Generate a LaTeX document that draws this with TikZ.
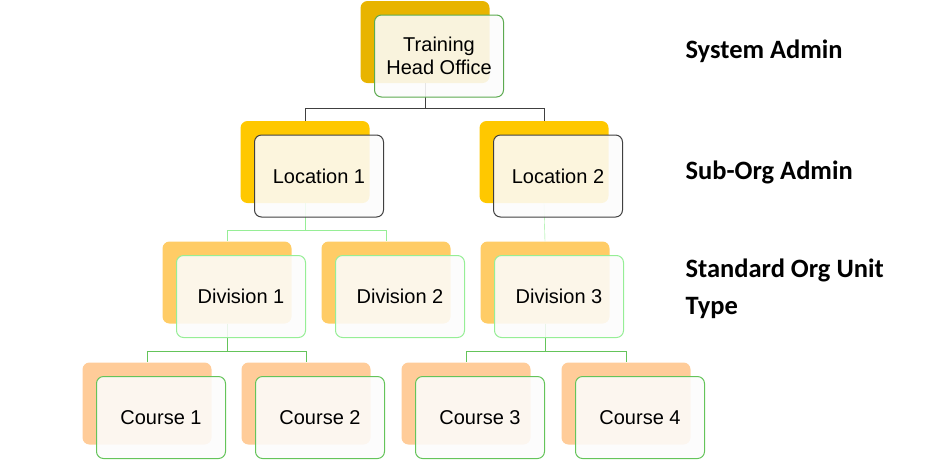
\documentclass[tikz,border=0pt]{standalone}
\usepackage{fontspec}
\setmainfont{Liberation Sans}
\newfontfamily\rolefont{Carlito}
\usetikzlibrary{positioning}

\definecolor{headback}{RGB}{232,180,0}
\definecolor{locback}{RGB}{255,200,0}
\definecolor{divback}{RGB}{255,204,102}
\definecolor{courseback}{RGB}{255,204,153}
\definecolor{headline}{RGB}{92,170,80}
\definecolor{locline}{RGB}{64,64,64}
\definecolor{divline}{RGB}{150,238,150}
\definecolor{courseline}{RGB}{100,196,90}

\tikzset{
  backbox/.style={rounded corners=7pt, minimum width=129pt, minimum height=82pt, inner sep=0pt},
  frontbox/.style={backbox, draw, line width=1pt, fill=gray!2, fill opacity=0.88, text opacity=1,
    font=\fontsize{20}{23}\selectfont, align=center},
  rolelabel/.style={anchor=west, align=left, font=\rolefont\bfseries\fontsize{26.5}{37}\selectfont}
}

\begin{document}
\begin{tikzpicture}[x=1pt,y=-1pt]
        \useasboundingbox (0,0) rectangle (936,459);

        % back boxes
        \node[backbox,fill=headback] (headB) at (425,42) {};
        \node[backbox,fill=locback] (locAB) at (305,162) {};
        \node[backbox,fill=locback] (locBB) at (544,162) {};
        \node[backbox,fill=divback] (divAB) at (227,282.5) {};
        \node[backbox,fill=divback] (divBB) at (386,282.5) {};
        \node[backbox,fill=divback] (divCB) at (545,282.5) {};
        \node[backbox,fill=courseback] (crsAB) at (147,403.5) {};
        \node[backbox,fill=courseback] (crsBB) at (306,403.5) {};
        \node[backbox,fill=courseback] (crsCB) at (466,403.5) {};
        \node[backbox,fill=courseback] (crsDB) at (626,403.5) {};

        % connectors
        \draw[locline] (headB.south) -- ++(0,25) -| (locAB.north);
        \draw[locline] (headB.south) -- ++(0,25) -| (locBB.north);
        \draw[divline] (locAB.south) -- ++(0,27) -| (divAB.north);
        \draw[divline] (locAB.south) -- ++(0,27) -| (divBB.north);
        \draw[divline] (locBB.south) -- (divCB.north);
        \draw[courseline] (divAB.south) -- ++(0,27) -| (crsAB.north);
        \draw[courseline] (divAB.south) -- ++(0,27) -| (crsBB.north);
        \draw[courseline] (divCB.south) -- ++(0,27) -| (crsCB.north);
        \draw[courseline] (divCB.south) -- ++(0,27) -| (crsDB.north);

        % front boxes
        \node[frontbox,draw=headline] (headF) at (439,56) {Training\\Head Office};
        \node[frontbox,draw=locline] (locAF) at (319,176) {Location 1};
        \node[frontbox,draw=locline] (locBF) at (558,176) {Location 2};
        \node[frontbox,draw=divline] (divAF) at (241,296.5) {Division 1};
        \node[frontbox,draw=divline] (divBF) at (400,296.5) {Division 2};
        \node[frontbox,draw=divline] (divCF) at (559,296.5) {Division 3};
        \node[frontbox,draw=courseline] (crsAF) at (161,417.5) {Course 1};
        \node[frontbox,draw=courseline] (crsBF) at (320,417.5) {Course 2};
        \node[frontbox,draw=courseline] (crsCF) at (480,417.5) {Course 3};
        \node[frontbox,draw=courseline] (crsDF) at (640,417.5) {Course 4};

        % role labels
        \node[rolelabel] (sysadmin) at (682,51) {System Admin};
        \node[rolelabel] (subadmin) at (682,172) {Sub-Org Admin};
        \node[rolelabel] (stdunit) at (682,289) {Standard Org Unit\\Type};
\end{tikzpicture}
\end{document}
